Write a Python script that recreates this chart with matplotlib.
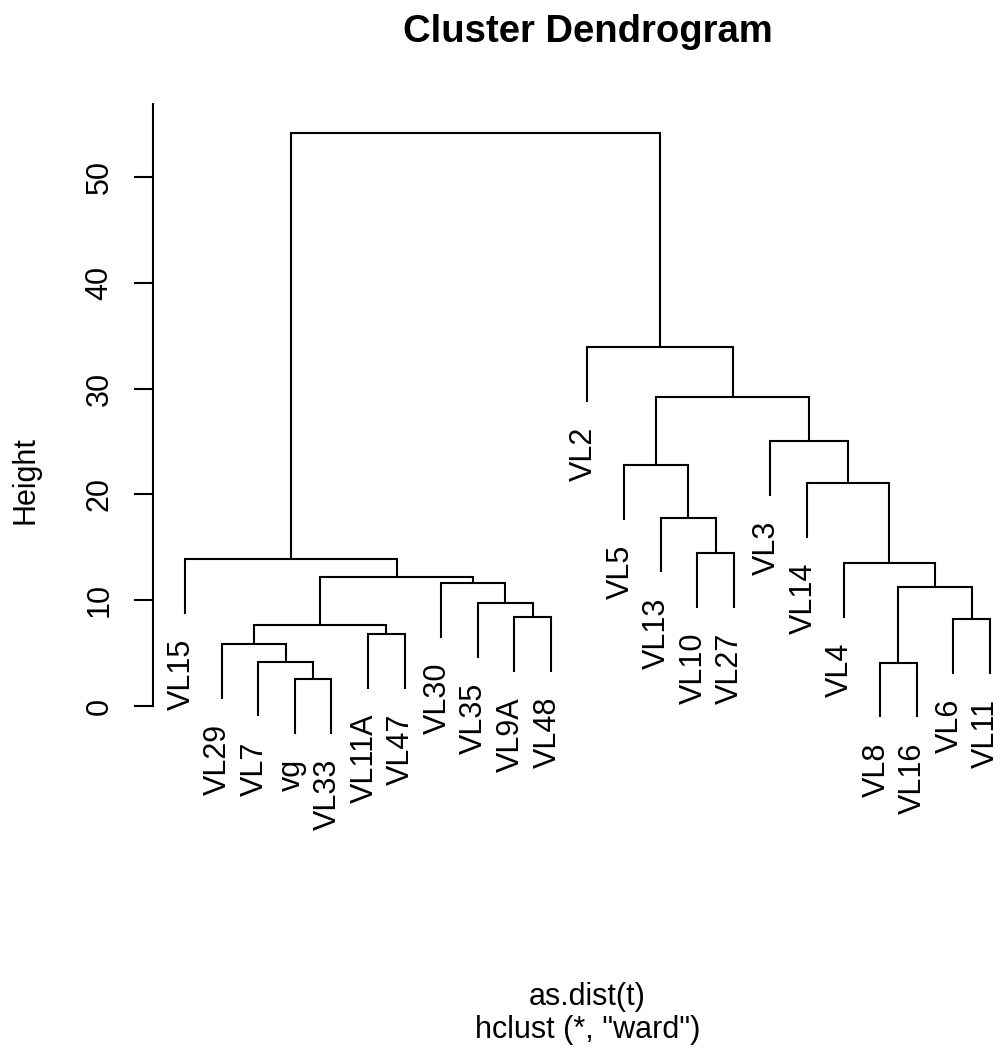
import matplotlib
matplotlib.use("Agg")
import matplotlib.pyplot as plt

plt.rcParams['font.family'] = ['Liberation Sans', 'DejaVu Sans']

# ---- data (leaf order left to right, merges in order of height) ----
leaf_labels = ["VL15", "VL29", "VL7", "vg", "VL33", "VL11A", "VL47", "VL30", "VL35",
               "VL9A", "VL48", "VL2", "VL5", "VL13", "VL10", "VL27", "VL3", "VL14",
               "VL4", "VL8", "VL16", "VL6", "VL11"]
merge_a = ["vg", "VL8", "VL7", "VL29", "VL11A", "#4", "VL6", "VL9A", "VL35", "#2",
           "VL30", "#6", "VL4", "VL15", "VL10", "VL13", "VL14", "VL5", "VL3", "#18",
           "VL2", "#14"]
merge_b = ["VL33", "VL16", "#1", "#3", "VL47", "#5", "VL11", "VL48", "#8", "#7",
           "#9", "#11", "#10", "#12", "VL27", "#15", "#13", "#16", "#17", "#19",
           "#20", "#21"]
merge_height = [2.55, 4.10, 4.19, 5.86, 6.81, 7.63, 8.19, 8.38, 9.70, 11.22,
                11.6, 12.16, 13.49, 13.87, 14.43, 17.8, 21.05, 22.75, 25.05, 29.18,
                33.9, 54.16]
y_ticks = [0, 10, 20, 30, 40, 50]

W, H = 1003, 1059
fig = plt.figure(figsize=(W / 100, H / 100), dpi=100)
fig.patch.set_facecolor("white")

left_px, right_px, top_px, bot_px = 153, 1022, 104, 861
ax = fig.add_axes([left_px / W, (H - bot_px) / H,
                   (right_px - left_px) / W, (bot_px - top_px) / H])
n = len(leaf_labels)
ax.set_xlim(1 - 0.04 * (n - 1), n + 0.04 * (n - 1))
ax.set_ylim(-14.65, 56.9)

hang = 0.1 * (max(merge_height) - min(merge_height))
node_x = {}
node_h = {}
lw = 1.5

for k, (a, b, h) in enumerate(zip(merge_a, merge_b, merge_height), start=1):
    pts = []
    for child in (a, b):
        if child.startswith("#"):
            cx, cy = node_x[child], node_h[child]
        else:
            cx = leaf_labels.index(child) + 1
            cy = h - hang
            ax.annotate(child, xy=(cx, cy), xytext=(-2.5, -18),
                        textcoords="offset points", rotation=90,
                        ha="center", va="top", fontsize=22, color="black",
                        annotation_clip=False)
        pts.append((cx, cy))
    (xa, ya), (xb, yb) = pts
    ax.plot([xa, xa, xb, xb], [ya, h, h, yb], color="black", lw=lw,
            solid_joinstyle="miter", solid_capstyle="butt", clip_on=False)
    node_x["#%d" % k] = (xa + xb) / 2
    node_h["#%d" % k] = h

for s in ("top", "right", "bottom"):
    ax.spines[s].set_visible(False)
ax.spines["left"].set_linewidth(lw)
ax.spines["left"].set_bounds(0, ax.get_ylim()[1])
ax.set_xticks([])
ax.set_yticks(y_ticks)
ax.set_yticklabels([str(t) for t in y_ticks], rotation=90, va="center", fontsize=22)
ax.tick_params(axis="y", direction="out", length=13.7, width=lw, pad=14)
ax.set_facecolor("white")

cx = (left_px + right_px) / 2 / W
fig.text(cx, 1 - 42 / H, "Cluster Dendrogram", ha="center", va="baseline",
         fontsize=27.5, fontweight="bold")
fig.text(26 / W, 1 - 480 / H, "Height", rotation=90, ha="center", va="center",
         fontsize=22)
fig.text(cx, 1 - 1005 / H, "as.dist(t)", ha="center", va="baseline", fontsize=22)
fig.text(cx, 1 - 1038 / H, 'hclust (*, "ward")', ha="center", va="baseline",
         fontsize=22)

fig.savefig("out.png", dpi=100, facecolor="white")
